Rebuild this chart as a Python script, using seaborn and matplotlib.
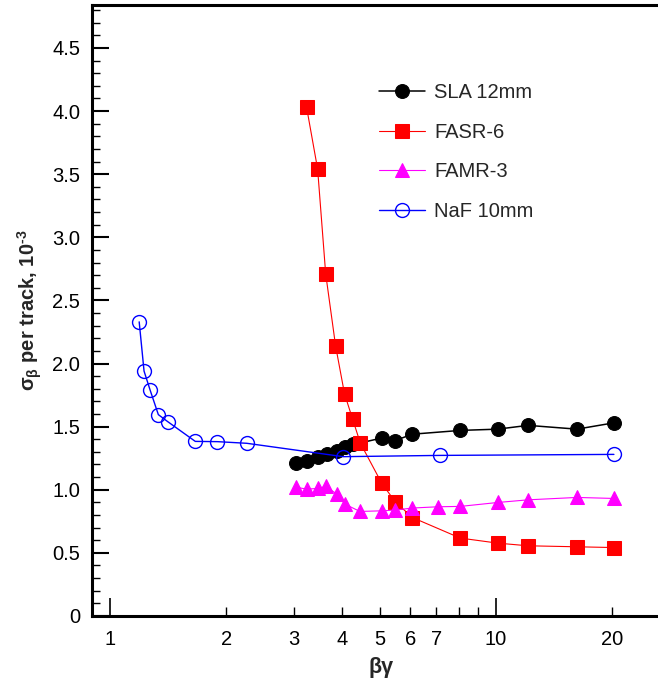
import numpy as np
import pandas as pd
import matplotlib
matplotlib.use('Agg')
import matplotlib.pyplot as plt
import seaborn as sns
from matplotlib.ticker import FixedLocator, FixedFormatter, MultipleLocator, FuncFormatter

# Data
sla_x = [3.03, 3.23, 3.45, 3.64, 3.87, 4.06, 4.26, 4.44, 5.06, 5.48, 6.07, 8.08, 10.1, 12.1, 16.2, 20.2]
sla_y = [1.21, 1.23, 1.26, 1.28, 1.31, 1.34, 1.36, 1.37, 1.41, 1.39, 1.44, 1.47, 1.48, 1.51, 1.48, 1.53]

fasr_x = [3.23, 3.45, 3.62, 3.84, 4.05, 4.25, 4.45, 5.06, 5.48, 6.07, 8.08, 10.1, 12.1, 16.2, 20.2]
fasr_y = [4.03, 3.54, 2.71, 2.14, 1.76, 1.56, 1.37, 1.05, 0.905, 0.78, 0.617, 0.577, 0.556, 0.548, 0.542]

famr_x = [3.03, 3.23, 3.45, 3.62, 3.87, 4.06, 4.44, 5.06, 5.48, 6.07, 7.06, 8.08, 10.1, 12.1, 16.2, 20.2]
famr_y = [1.02, 1.005, 1.01, 1.026, 0.966, 0.886, 0.828, 0.833, 0.839, 0.855, 0.865, 0.868, 0.899, 0.92, 0.939, 0.931]

naf_x = [1.19, 1.225, 1.27, 1.334, 1.41, 1.663, 1.897, 2.26, 4.02, 7.16, 20.2]
naf_y = [2.33, 1.94, 1.79, 1.595, 1.54, 1.383, 1.381, 1.368, 1.262, 1.272, 1.28]

x_major = [1, 10]
x_minor = [2, 3, 4, 5, 6, 7, 8, 9, 20]
x_minor_labels = ['2', '3', '4', '5', '6', '7', '', '', '20']

sns.set_theme(style='ticks')
plt.rcParams['font.family'] = ['Liberation Sans', 'DejaVu Sans']
plt.rcParams['mathtext.fontset'] = 'custom'
plt.rcParams['mathtext.rm'] = 'Liberation Sans:bold'
plt.rcParams['mathtext.it'] = 'Liberation Sans:bold'
plt.rcParams['mathtext.bf'] = 'Liberation Sans:bold'

fig = plt.figure(figsize=(6.58, 6.88), dpi=100)
ax = fig.add_axes([0.1398, 0.1047, 0.88, 0.888])

sns.lineplot(x=sla_x, y=sla_y, ax=ax, color='black', lw=1.1, marker='o', ms=10,
             mec='black', mfc='black', label='SLA 12mm', sort=False, estimator=None)
sns.lineplot(x=fasr_x, y=fasr_y, ax=ax, color='#ff0000', lw=0.8, marker='s', ms=9.5,
             mec='#ff0000', mfc='#ff0000', label='FASR-6', sort=False, estimator=None)
sns.lineplot(x=famr_x, y=famr_y, ax=ax, color='#ff00ff', lw=0.8, marker='^', ms=10.5,
             mec='#ff00ff', mfc='#ff00ff', label='FAMR-3', sort=False, estimator=None)
sns.lineplot(x=naf_x, y=naf_y, ax=ax, color='#0000ff', lw=1.0, marker='o', ms=10,
             mec='#0000ff', mfc='none', mew=1.0, label='NaF 10mm', sort=False, estimator=None)

ax.set_xscale('log')
ax.set_xlim(0.898, 28.4)
ax.set_ylim(0, 4.84)

ax.xaxis.set_major_locator(FixedLocator(x_major))
ax.xaxis.set_major_formatter(FixedFormatter(['1', '10']))
ax.xaxis.set_minor_locator(FixedLocator(x_minor))
ax.xaxis.set_minor_formatter(FixedFormatter(x_minor_labels))
ax.yaxis.set_major_locator(MultipleLocator(0.5))
ax.yaxis.set_minor_locator(MultipleLocator(0.1))
ax.yaxis.set_major_formatter(FuncFormatter(lambda v, p: '0' if abs(v) < 1e-9 else f'{v:.1f}'))

ax.tick_params(axis='both', which='both', direction='in', labelsize=14.5, colors='black')
ax.tick_params(axis='x', which='major', length=13, width=1.2, pad=10)
ax.tick_params(axis='x', which='minor', length=6.5, width=1.0, pad=10)
ax.tick_params(axis='y', which='major', length=12, width=1.5, pad=8.5)
ax.tick_params(axis='y', which='minor', length=6, width=1.0)

for s in ['left', 'bottom', 'top']:
    ax.spines[s].set_linewidth(2.2)
    ax.spines[s].set_color('black')
ax.spines['right'].set_visible(False)

ax.set_xlabel('βγ', fontsize=15.5, fontweight='bold', labelpad=6)
ax.set_ylabel(r'σ$_{β}$ per track, 10$^{\text{-}3}$', fontsize=14.5, fontweight='bold', labelpad=6)

ax.legend(loc='upper left', bbox_to_anchor=(0.576, 0.879), bbox_transform=fig.transFigure,
          frameon=False, fontsize=14.5, handlelength=2.29, handletextpad=0.45,
          labelspacing=1.02, borderpad=0, borderaxespad=0)

fig.savefig('out.png', dpi=100)
